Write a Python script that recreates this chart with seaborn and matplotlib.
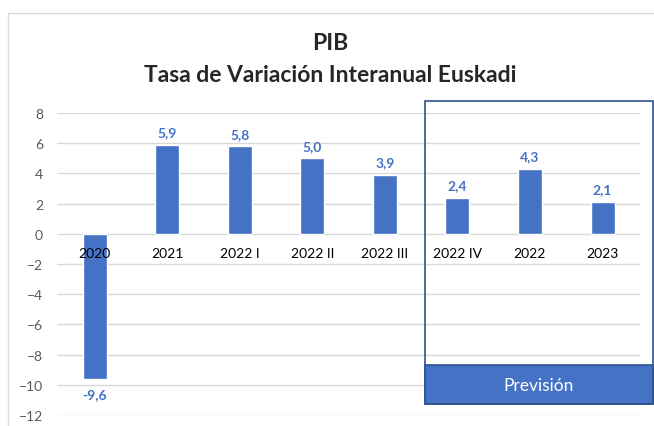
import seaborn as sns
import matplotlib.pyplot as plt
import matplotlib.patches as patches
import pandas as pd

categories = ['2020', '2021', '2022 I', '2022 II', '2022 III', '2022 IV', '2022', '2023']
values = [-9.6, 5.9, 5.8, 5.0, 3.9, 2.4, 4.3, 2.1]
forecast = ['2022 IV', '2022', '2023']

df = pd.DataFrame({'periodo': categories, 'tasa': values})

sns.set_style('white')
plt.rcParams['font.family'] = ['Lato', 'DejaVu Sans']

fig = plt.figure(figsize=(6.54, 4.27), dpi=100)
ax = fig.add_axes([0.087, 0.026, 0.892, 0.707])

blue = '#4472C4'
sns.barplot(data=df, x='periodo', y='tasa', color=blue, saturation=1, width=0.33, ax=ax)

ax.set_ylim(-12, 8)
ax.set_xlim(-0.52, 7.52)
ax.set_yticks(range(-12, 9, 2))
ax.yaxis.grid(True, color='#d9d9d9', linewidth=1)
ax.set_axisbelow(True)
for s in ax.spines.values():
    s.set_visible(False)
ax.set_xlabel('')
ax.set_ylabel('')
ax.set_xticks([])
ax.tick_params(axis='y', length=0, pad=10, labelsize=10, labelcolor='#595959')

# category labels just under the zero line
for i, cat in enumerate(categories):
    ax.annotate(cat, (i, 0), xytext=(0, -14), textcoords='offset points',
                ha='center', va='center', fontsize=10, color='black')

# value labels
for i, v in enumerate(values):
    off = 9 if v >= 0 else -11
    ax.annotate(f'{v:.1f}'.replace('.', ','), (i, v), xytext=(0, off),
                textcoords='offset points', ha='center', va='center',
                fontsize=10, color=blue, fontweight='bold')

# forecast box
i0 = categories.index(forecast[0])
i1 = categories.index(forecast[-1])
x0 = i0 - 0.44
x1 = i1 + 0.69
ax.add_patch(patches.Rectangle((x0, -8.7), x1 - x0, -2.6, facecolor=blue,
                               edgecolor='#2F528F', linewidth=1.2, clip_on=False, zorder=3))
ax.add_patch(patches.Rectangle((x0, -11.3), x1 - x0, 20.1, facecolor='none',
                               edgecolor='#2F528F', linewidth=1.2, clip_on=False, zorder=3))
ax.text((x0 + x1) / 2, -10.0, 'Previsión', ha='center', va='center',
        fontsize=12.5, color='white', zorder=4)

# outer chart frame
fig.add_artist(patches.Rectangle((0.012, -0.05), 1.1, 1.017, transform=fig.transFigure,
                                 facecolor='none', edgecolor='#d9d9d9', linewidth=1))

fig.text(0.505, 0.898, 'PIB', ha='center', va='center', fontsize=16.5, fontweight='bold')
fig.text(0.505, 0.823, 'Tasa de Variación Interanual Euskadi', ha='center', va='center',
         fontsize=16.5, fontweight='bold')

fig.savefig('out.png', dpi=100)
